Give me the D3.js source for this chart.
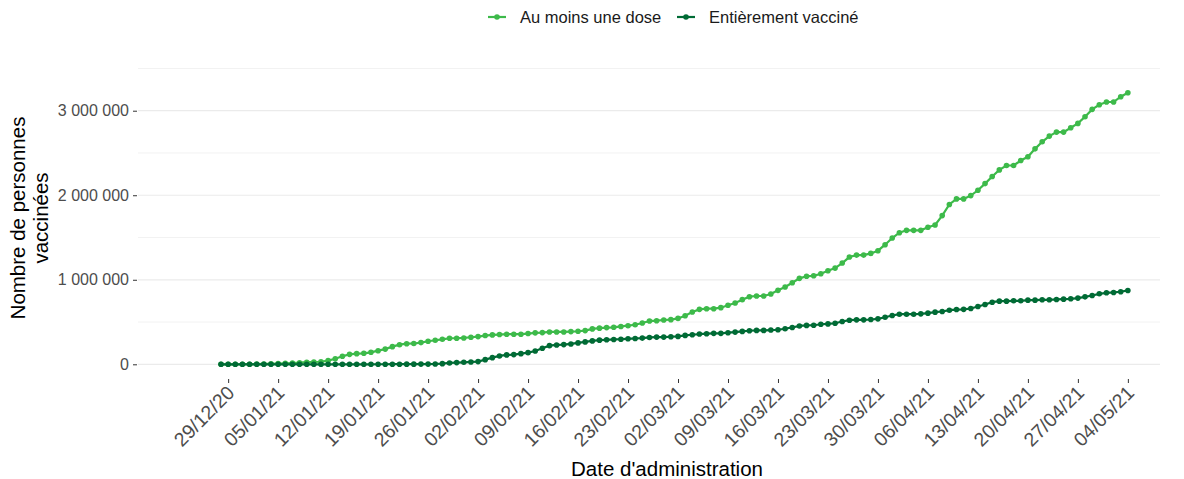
<!DOCTYPE html>
<html>
<head>
<meta charset="utf-8">
<script src="https://cdn.jsdelivr.net/npm/d3@7"></script>
<style>
  body { margin: 0; background: #fff; }
  svg { font-family: "Liberation Sans", Arial, sans-serif; }
</style>
</head>
<body>
<svg id="chart" width="1184" height="479"></svg>
<script>
// first day of the series, one value per day after that
const startDate = new Date(2020, 11, 28);

const seriesNames = ["Au moins une dose", "Entièrement vacciné"];
const seriesColors = ["#3dba4a", "#006b35"];

// Au moins une dose
const auMoinsUneDose = [
  0, 100, 300, 700, 1500, 2500, 4000, 6000, 9000, 12000,
  15000, 19000, 25000, 27000, 30000, 43000, 66000, 95000, 118000, 126000,
  130000, 142000, 161000, 180000, 209000, 232000, 244000, 246000, 257000, 273000,
  285000, 296000, 308000, 308000, 312000, 320000, 328000, 340000, 348000, 352000,
  356000, 356000, 356000, 364000, 372000, 375000, 383000, 383000, 383000, 387000,
  391000, 399000, 419000, 428000, 434000, 438000, 448000, 457000, 468000, 488000,
  512000, 516000, 524000, 528000, 543000, 575000, 619000, 650000, 658000, 658000,
  670000, 698000, 725000, 765000, 800000, 808000, 808000, 832000, 875000, 915000,
  965000, 1017000, 1042000, 1047000, 1071000, 1107000, 1138000, 1198000, 1269000, 1292000,
  1292000, 1312000, 1344000, 1415000, 1494000, 1557000, 1585000, 1585000, 1585000, 1621000,
  1648000, 1759000, 1891000, 1957000, 1957000, 1996000, 2059000, 2138000, 2221000, 2300000,
  2352000, 2352000, 2411000, 2455000, 2549000, 2632000, 2700000, 2747000, 2747000, 2798000,
  2850000, 2929000, 3016000, 3071000, 3103000, 3103000, 3166000, 3213000
];

// Entièrement vacciné
const entierementVaccine = [
  0, 0, 0, 0, 0, 0, 0, 0, 0, 0,
  0, 0, 0, 0, 0, 0, 0, 0, 0, 0,
  0, 300, 600, 900, 1200, 1500, 1800, 2100, 2400, 2700,
  3500, 8000, 16000, 20000, 24000, 28000, 32000, 55000, 79000, 99000,
  111000, 115000, 126000, 138000, 158000, 190000, 221000, 229000, 233000, 241000,
  253000, 265000, 277000, 286000, 290000, 294000, 297000, 302000, 306000, 310000,
  318000, 322000, 322000, 326000, 330000, 342000, 350000, 358000, 362000, 366000,
  366000, 374000, 381000, 389000, 397000, 401000, 401000, 405000, 409000, 421000,
  436000, 454000, 460000, 462000, 474000, 478000, 486000, 506000, 522000, 526000,
  526000, 530000, 538000, 557000, 577000, 593000, 593000, 593000, 597000, 605000,
  617000, 625000, 640000, 648000, 650000, 660000, 684000, 708000, 735000, 747000,
  747000, 751000, 751000, 759000, 759000, 763000, 763000, 767000, 771000, 775000,
  783000, 798000, 814000, 834000, 846000, 850000, 858000, 874000
];

const xTickLabels = [
  "29/12/20", "05/01/21", "12/01/21", "19/01/21", "26/01/21", "02/02/21",
  "09/02/21", "16/02/21", "23/02/21", "02/03/21", "09/03/21", "16/03/21",
  "23/03/21", "30/03/21", "06/04/21", "13/04/21", "20/04/21", "27/04/21", "04/05/21"
];

const yMajor = [0, 1000000, 2000000, 3000000];
const yMinor = [500000, 1500000, 2500000, 3500000];

const parseLabel = d3.timeParse("%d/%m/%y");
const fmtLabel = d3.timeFormat("%d/%m/%y");

const svg = d3.select("#chart");
const panel = { left: 138, right: 1160, top: 60, bottom: 378 };

const x = d3.scaleTime()
  .domain([new Date(2020, 11, 16, 9), new Date(2021, 4, 8, 12)])
  .range([panel.left, panel.right]);

const y = d3.scaleLinear()
  .domain([-162000, 3600000])
  .range([panel.bottom, panel.top]);

const series = [auMoinsUneDose, entierementVaccine].map((vals, k) => ({
  name: seriesNames[k],
  color: seriesColors[k],
  points: vals.map((v, i) => ({ date: d3.timeDay.offset(startDate, i), value: v }))
}));

// grid
svg.append("g").selectAll("line.minor")
  .data(yMinor)
  .join("line")
  .attr("x1", panel.left).attr("x2", panel.right)
  .attr("y1", d => y(d)).attr("y2", d => y(d))
  .attr("stroke", "#f2f2f2").attr("stroke-width", 1);

svg.append("g").selectAll("line.major")
  .data(yMajor)
  .join("line")
  .attr("x1", panel.left).attr("x2", panel.right)
  .attr("y1", d => y(d)).attr("y2", d => y(d))
  .attr("stroke", "#ebebeb").attr("stroke-width", 1.2);

// y axis
const yAxis = svg.append("g")
  .attr("transform", `translate(${panel.left - 1},0)`)
  .call(d3.axisLeft(y)
    .tickValues(yMajor)
    .tickSize(4)
    .tickPadding(4)
    .tickFormat(d => d3.format(",")(d).replace(/,/g, " ")));
yAxis.select(".domain").remove();
yAxis.selectAll(".tick line").attr("stroke", "#333");
yAxis.selectAll(".tick text")
  .attr("fill", "#4d4d4d")
  .style("font-size", "16px");

// x axis
const xAxis = svg.append("g")
  .attr("transform", `translate(0,${panel.bottom + 1})`)
  .call(d3.axisBottom(x)
    .tickValues(xTickLabels.map(parseLabel))
    .tickSize(4)
    .tickFormat(fmtLabel));
xAxis.select(".domain").remove();
xAxis.selectAll(".tick line").attr("stroke", "#333");
xAxis.selectAll(".tick text")
  .attr("fill", "#4d4d4d")
  .style("font-size", "19.5px")
  .attr("text-anchor", "end")
  .attr("dy", null)
  .attr("y", 0)
  .attr("transform", "translate(7,15) rotate(-45)");

// lines + points
const line = d3.line()
  .x(d => x(d.date))
  .y(d => y(d.value));

series.forEach(s => {
  const g = svg.append("g");
  g.append("path")
    .datum(s.points)
    .attr("fill", "none")
    .attr("stroke", s.color)
    .attr("stroke-width", 2.2)
    .attr("d", line);
  g.selectAll("circle")
    .data(s.points)
    .join("circle")
    .attr("cx", d => x(d.date))
    .attr("cy", d => y(d.value))
    .attr("r", 2.8)
    .attr("fill", s.color);
});

// axis titles
svg.append("text")
  .attr("x", 667).attr("y", 476)
  .attr("text-anchor", "middle")
  .style("font-size", "20.5px")
  .attr("fill", "#000")
  .text("Date d'administration");

const yTitle = svg.append("text")
  .attr("transform", `translate(0,218) rotate(-90)`)
  .attr("text-anchor", "middle")
  .style("font-size", "20.5px")
  .attr("fill", "#000");
yTitle.append("tspan").attr("x", 0).attr("y", 25).text("Nombre de personnes");
yTitle.append("tspan").attr("x", 0).attr("y", 48).text("vaccinées");

// legend
const legendItems = [
  { name: seriesNames[0], color: seriesColors[0], x: 488 },
  { name: seriesNames[1], color: seriesColors[1], x: 677 }
];
const lg = svg.append("g");
legendItems.forEach(it => {
  const g = lg.append("g").attr("transform", `translate(${it.x},17)`);
  g.append("line")
    .attr("x1", 0).attr("x2", 18).attr("y1", 0).attr("y2", 0)
    .attr("stroke", it.color).attr("stroke-width", 2.2);
  g.append("circle").attr("cx", 9).attr("cy", 0).attr("r", 2.8).attr("fill", it.color);
  g.append("text")
    .attr("x", 32).attr("y", 0)
    .attr("dy", "0.35em")
    .style("font-size", "16.5px")
    .attr("fill", "#1a1a1a")
    .text(it.name);
});
</script>
</body>
</html>
